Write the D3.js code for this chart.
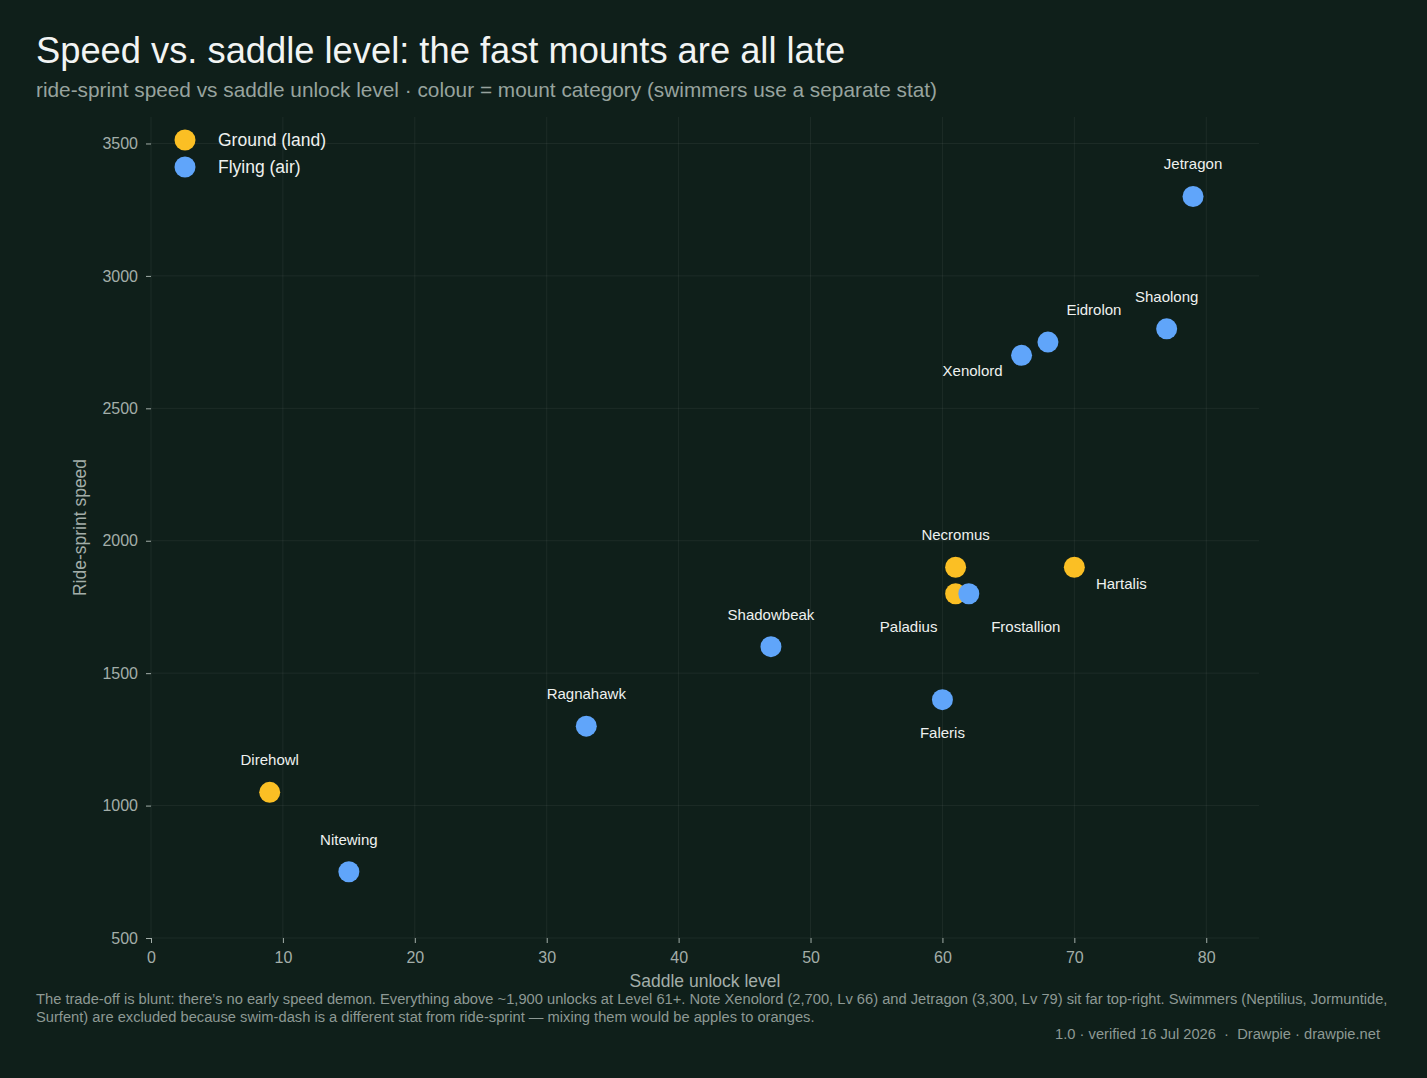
<!DOCTYPE html>
<html>
<head>
<meta charset="utf-8">
<script src="https://cdn.jsdelivr.net/npm/d3@7"></script>
<style>
  body { margin: 0; background: #0f1f1a; }
  svg { display: block; font-family: "Liberation Sans", Arial, sans-serif; }
  .tick text { fill: #a3aea9; font-size: 16px; }
  .tick line { stroke: #a3aea9; }
</style>
</head>
<body>
<script>
// mounts
var names = ["Direhowl", "Nitewing", "Ragnahawk", "Shadowbeak", "Faleris", "Necromus", "Paladius",
             "Frostallion", "Hartalis", "Xenolord", "Eidrolon", "Shaolong", "Jetragon"];
var levels = [9, 15, 33, 47, 60, 61, 61, 62, 70, 66, 68, 77, 79];
var speeds = [1050, 750, 1300, 1600, 1400, 1900, 1800, 1800, 1900, 2700, 2750, 2800, 3300];
var categories = ["ground", "flying", "flying", "flying", "flying", "ground", "ground",
                  "flying", "ground", "flying", "flying", "flying", "flying"];
var categoryNames = ["ground", "flying"];
var legendLabels = ["Ground (land)", "Flying (air)"];
var xTicks = [0, 10, 20, 30, 40, 50, 60, 70, 80];
var yTicks = [500, 1000, 1500, 2000, 2500, 3000, 3500];
// where each name label sits relative to its dot
var labelSide = ["above", "above", "above", "above", "below", "above", "below-left",
                 "below-right", "right", "left-below", "above-right", "above", "above"];

window.onload = function(){
  var w = 1427, h = 1078;
  var margin = {top: 117, right: 168, bottom: 140, left: 151};
  var width = w - margin.left - margin.right;
  var height = h - margin.top - margin.bottom;

  var data = names.map(function(n, i){
    return {name: n, level: levels[i], speed: speeds[i], cat: categories[i], side: labelSide[i]};
  });

  var x = d3.scaleLinear().domain([0, 84]).range([0, width]);
  var y = d3.scaleLinear().domain([500, 3600]).range([height, 0]);
  var colour = d3.scaleOrdinal().domain(categoryNames).range(["#fbbf24", "#60a5fa"]);

  var svg = d3.select('body').append('svg')
    .attr('width', w)
    .attr('height', h);

  svg.append('rect').attr('width', w).attr('height', h).attr('fill', '#0f1f1a');

  svg.append('text')
    .attr('x', 36).attr('y', 63)
    .attr('fill', '#f2f4f3')
    .style('font-size', '36.3px')
    .text('Speed vs. saddle level: the fast mounts are all late');

  svg.append('text')
    .attr('x', 36).attr('y', 97)
    .attr('fill', '#97a39e')
    .style('font-size', '20.8px')
    .text('ride-sprint speed vs saddle unlock level \u00b7 colour = mount category (swimmers use a separate stat)');

  var chart = svg.append('g')
    .attr('transform', 'translate(' + margin.left + ',' + margin.top + ')');

  // grid
  chart.selectAll('.vgrid').data(xTicks).enter().append('line')
    .attr('x1', function(d){ return x(d); }).attr('x2', function(d){ return x(d); })
    .attr('y1', 0).attr('y2', height)
    .attr('stroke', '#ffffff').attr('stroke-opacity', 0.06);
  chart.selectAll('.hgrid').data(yTicks).enter().append('line')
    .attr('x1', 0).attr('x2', width)
    .attr('y1', function(d){ return y(d); }).attr('y2', function(d){ return y(d); })
    .attr('stroke', '#ffffff').attr('stroke-opacity', 0.06);

  // axes
  var xAxis = chart.append('g')
    .attr('transform', 'translate(0,' + height + ')')
    .call(d3.axisBottom(x).tickValues(xTicks).tickSize(5).tickPadding(9));
  xAxis.select('.domain').remove();

  var yAxis = chart.append('g')
    .call(d3.axisLeft(y).tickValues(yTicks).tickFormat(d3.format('d')).tickSize(5).tickPadding(8));
  yAxis.select('.domain').remove();

  svg.append('text')
    .attr('x', margin.left + x(42)).attr('y', 987)
    .attr('text-anchor', 'middle')
    .attr('fill', '#a3aea9')
    .style('font-size', '17.5px')
    .text('Saddle unlock level');

  svg.append('text')
    .attr('transform', 'translate(86,' + (margin.top + y(2050)) + ') rotate(-90)')
    .attr('text-anchor', 'middle')
    .attr('fill', '#a3aea9')
    .style('font-size', '17.5px')
    .text('Ride-sprint speed');

  // dots
  chart.selectAll('.dot').data(data).enter().append('circle')
    .attr('cx', function(d){ return x(d.level); })
    .attr('cy', function(d){ return y(d.speed); })
    .attr('r', 10.5)
    .attr('fill', function(d){ return colour(d.cat); });

  var offsets = {
    'above': [0, -27, 'middle'],
    'below': [0, 38, 'middle'],
    'below-left': [-47, 38, 'middle'],
    'below-right': [57, 38, 'middle'],
    'right': [47, 22, 'middle'],
    'left-below': [-49, 21, 'middle'],
    'above-right': [46, -27, 'middle']
  };

  chart.selectAll('.lbl').data(data).enter().append('text')
    .attr('x', function(d){ return x(d.level) + offsets[d.side][0]; })
    .attr('y', function(d){ return y(d.speed) + offsets[d.side][1]; })
    .attr('text-anchor', function(d){ return offsets[d.side][2]; })
    .attr('fill', '#eef1ef')
    .style('font-size', '15px')
    .text(function(d){ return d.name; });

  // legend
  var legend = svg.append('g').attr('transform', 'translate(185,140)');
  legendLabels.forEach(function(l, i){
    legend.append('circle').attr('cx', 0).attr('cy', i * 27).attr('r', 10.5)
      .attr('fill', colour(categoryNames[i]));
    legend.append('text').attr('x', 33).attr('y', i * 27 + 6)
      .attr('fill', '#eef1ef').style('font-size', '17.5px').text(l);
  });

  // footer
  var foot = svg.append('text').attr('fill', '#8d9994').style('font-size', '14.7px');
  foot.append('tspan').attr('x', 36).attr('y', 1004)
    .text('The trade-off is blunt: there\u2019s no early speed demon. Everything above ~1,900 unlocks at Level 61+. Note Xenolord (2,700, Lv 66) and Jetragon (3,300, Lv 79) sit far top-right. Swimmers (Neptilius, Jormuntide,');
  foot.append('tspan').attr('x', 36).attr('y', 1022)
    .text('Surfent) are excluded because swim-dash is a different stat from ride-sprint \u2014 mixing them would be apples to oranges.');

  svg.append('text')
    .attr('x', 1380).attr('y', 1039)
    .attr('text-anchor', 'end')
    .style('white-space', 'pre')
    .attr('fill', '#8d9994').style('font-size', '14.7px')
    .text('1.0 \u00b7 verified 16 Jul 2026  \u00b7  Drawpie \u00b7 drawpie.net');
};
</script>
</body>
</html>
